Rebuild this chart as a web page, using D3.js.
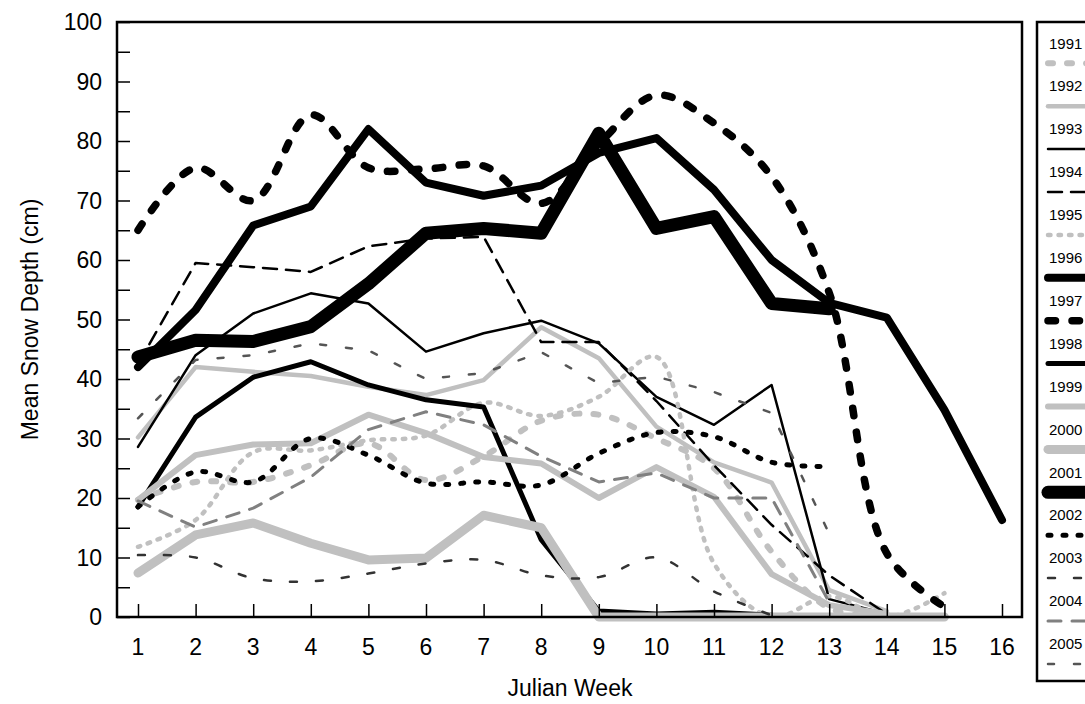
<!DOCTYPE html>
<html>
<head>
<meta charset="utf-8">
<script src="https://cdn.jsdelivr.net/npm/d3@7"></script>
<style>
  html, body { margin: 0; padding: 0; background: #fff; }
  svg { display: block; font-family: "Liberation Sans", Arial, sans-serif; }
</style>
</head>
<body>
<svg id="chart" width="1085" height="704"></svg>
<script>
// ---------- DATA ----------
const weeks = [1, 2, 3, 4, 5, 6, 7, 8, 9, 10, 11, 12, 13, 14, 15, 16];
const yTickLabels = [0, 10, 20, 30, 40, 50, 60, 70, 80, 90, 100];
const years = ["1991", "1992", "1993", "1994", "1995", "1996", "1997", "1998",
               "1999", "2000", "2001", "2002", "2003", "2004", "2005"];

const y1991 = [19.7, 22.7, 22.7, 25.5, 29.2, 23, 27, 33, 34, 30, 25, 11, 1.5, 0];
const y1992 = [30.2, 42, 41.2, 40.5, 38.7, 37.3, 39.8, 48.7, 43.5, 32, 26, 22.6, 4.5, 1];
const y1993 = [28.6, 44, 51, 54.4, 52.7, 44.6, 47.7, 49.8, 46, 37, 32.3, 39, 3, 0.5];
const y1994 = [42.5, 59.5, 58.8, 58, 62.3, 63.6, 63.9, 46.2, 46.2, 36.3, 25.5, 15.5, 7, 0.5];
const y1995 = [11.8, 16.3, 27.7, 28, 29.7, 30.5, 36, 33.8, 37, 43.7, 9, 0, 3.5, 0, 4];
const y1996 = [42, 51.6, 65.8, 69, 82, 73, 70.8, 72.5, 78, 80.5, 71.8, 60, 52.8, 50.3, 34.8, 16.3];
const y1997 = [65, 75.5, 70, 84.4, 75.5, 75.3, 75.8, 69.5, 79.5, 87.7, 83, 74, 54.5, 10.7, 1.7];
const y1998 = [18.5, 33.6, 40.3, 42.9, 39, 36.5, 35.3, 13, 1, 0.5, 0.8, 0.3];
const y1999 = [19.7, 27.2, 29, 29.2, 34, 30.9, 26.9, 25.8, 20, 25.2, 20.2, 7.2, 2, 0.5];
const y2000 = [7.4, 13.8, 15.8, 12.4, 9.6, 9.9, 17.1, 15, 0, 0, 0, 0, 0, 0, 0];
const y2001 = [43.7, 46.5, 46.3, 48.8, 56, 64.5, 65.3, 64.5, 81.3, 65.3, 67.3, 52.7, 51.8];
const y2002 = [18.5, 24.4, 22.7, 30, 27.2, 22.5, 22.7, 22.2, 27.5, 31, 30.3, 26, 25.3];
const y2003 = [10.4, 10, 6.5, 6, 7.3, 9, 9.6, 7, 6.7, 10, 4.3, 0.3];
const y2004 = [19.5, 15.1, 18.3, 23.5, 31.5, 34.5, 32.3, 27, 22.7, 24.2, 20, 20, 2.5];
const y2005 = [33.4, 43.2, 44, 46, 44.8, 40, 41, 44.5, 39.3, 40.4, 37.8, 34.3, 14];

const seriesValues = [y1991, y1992, y1993, y1994, y1995, y1996, y1997, y1998,
                      y1999, y2000, y2001, y2002, y2003, y2004, y2005];

// ---------- STYLES (kept apart from the data) ----------
const LG = "#c0c0c0";
const styles = [
  { color: LG,        width: 6,   dash: "5,14",   smooth: true  }, // 1991
  { color: LG,        width: 4.5, dash: null,     smooth: false }, // 1992
  { color: "#000",    width: 2.5, dash: null,     smooth: false }, // 1993
  { color: "#000",    width: 2.5, dash: "14,9",   smooth: false }, // 1994
  { color: LG,        width: 4.5, dash: "2.5,8",  smooth: true  }, // 1995
  { color: "#000",    width: 8,   dash: null,     smooth: false }, // 1996
  { color: "#000",    width: 7.5, dash: "7.5,16.5", smooth: true }, // 1997
  { color: "#000",    width: 5,   dash: null,     smooth: false }, // 1998
  { color: LG,        width: 6,   dash: null,     smooth: false }, // 1999
  { color: LG,        width: 9,   dash: null,     smooth: false }, // 2000
  { color: "#000",    width: 13,  dash: null,     smooth: false }, // 2001
  { color: "#000",    width: 5,   dash: "3,12",   smooth: true  }, // 2002
  { color: "#333",    width: 2.5, dash: "7,19",   smooth: true  }, // 2003
  { color: "#808080", width: 3,   dash: "13,11",  smooth: false }, // 2004
  { color: "#555",    width: 2.5, dash: "6,20",   smooth: false }  // 2005
];

// ---------- LAYOUT ----------
const plot = { left: 117, right: 1022, top: 22, bottom: 617 };
const svg = d3.select("#chart");

const x = d3.scaleLinear().domain([1, 16]).range([138, 1002]);
const y = d3.scaleLinear().domain([0, 100]).range([plot.bottom, plot.top]);

// lines
const lineStraight = d3.line().x(d => x(d[0])).y(d => y(d[1]));
const lineSmooth = d3.line().x(d => x(d[0])).y(d => y(d[1])).curve(d3.curveCatmullRom.alpha(0.5));

const gLines = svg.append("g");
seriesValues.forEach((vals, i) => {
  const st = styles[i];
  const pts = vals.map((v, k) => [weeks[k], v]);
  gLines.append("path")
    .attr("d", (st.smooth ? lineSmooth : lineStraight)(pts))
    .attr("fill", "none")
    .attr("stroke", st.color)
    .attr("stroke-width", st.width)
    .attr("stroke-linecap", "round")
    .attr("stroke-linejoin", "round")
    .attr("stroke-dasharray", st.dash);
});

// frame
svg.append("rect")
  .attr("x", plot.left).attr("y", plot.top)
  .attr("width", plot.right - plot.left).attr("height", plot.bottom - plot.top)
  .attr("fill", "none").attr("stroke", "#000").attr("stroke-width", 2.5);

// y axis: inside ticks every 5, labels every 10
const yAxis = d3.axisRight(y)
  .tickValues(d3.range(0, 101, 5))
  .tickSize(13)
  .tickFormat("");
const gy = svg.append("g").attr("transform", `translate(${plot.left},0)`).call(yAxis);
gy.select(".domain").remove();
gy.selectAll(".tick line").attr("stroke", "#000").attr("stroke-width", 1.5);

svg.append("g").selectAll("text").data(yTickLabels).join("text")
  .attr("x", 102).attr("y", d => y(d)).attr("dy", "0.35em")
  .attr("text-anchor", "end").attr("font-size", 23).attr("fill", "#000")
  .text(d => d);

// x axis: inside ticks
const xAxis = d3.axisTop(x).tickValues(weeks).tickSize(13).tickFormat("");
const gx = svg.append("g").attr("transform", `translate(0,${plot.bottom})`).call(xAxis);
gx.select(".domain").remove();
gx.selectAll(".tick line").attr("stroke", "#000").attr("stroke-width", 1.5);

svg.append("g").selectAll("text").data(weeks).join("text")
  .attr("x", d => x(d)).attr("y", 655)
  .attr("text-anchor", "middle").attr("font-size", 23).attr("fill", "#000")
  .text(d => d);

// axis titles
svg.append("text")
  .attr("x", 570).attr("y", 696)
  .attr("text-anchor", "middle").attr("font-size", 23)
  .text("Julian Week");
svg.append("text")
  .attr("transform", `translate(38,${(plot.top + plot.bottom) / 2}) rotate(-90)`)
  .attr("text-anchor", "middle").attr("font-size", 23)
  .text("Mean Snow Depth (cm)");

// legend
const lg = svg.append("g");
lg.append("rect")
  .attr("x", 1037).attr("y", 22).attr("width", 80).attr("height", 659)
  .attr("fill", "#fff").attr("stroke", "#000").attr("stroke-width", 2.5);
years.forEach((yr, i) => {
  const ly = 43.3 + i * 42.9;
  const st = styles[i];
  lg.append("text")
    .attr("x", 1049).attr("y", ly).attr("dy", "0.35em")
    .attr("font-size", 15).attr("fill", "#000").text(yr);
  lg.append("line")
    .attr("x1", 1048).attr("x2", 1110)
    .attr("y1", ly + 20).attr("y2", ly + 20)
    .attr("stroke", st.color).attr("stroke-width", st.width)
    .attr("stroke-linecap", "round")
    .attr("stroke-dasharray", st.dash);
});
</script>
</body>
</html>
